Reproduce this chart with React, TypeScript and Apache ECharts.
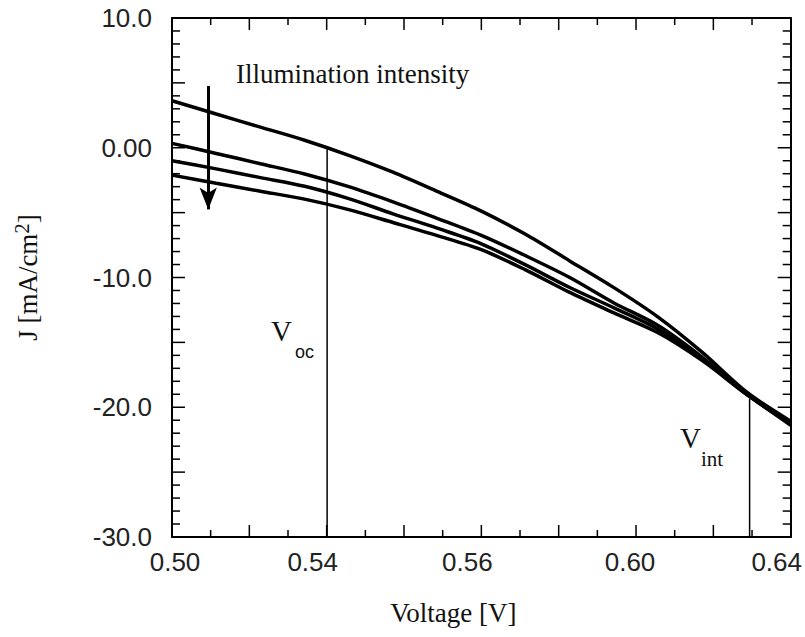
import React, { useEffect, useRef } from "react";
import * as echarts from "echarts";

// Voltage grid [V]
const voltage = [0.50, 0.51, 0.52, 0.53, 0.54, 0.55, 0.56, 0.57, 0.58, 0.59, 0.60, 0.61, 0.62, 0.63, 0.64];
// Current density J [mA/cm2] for four illumination intensities (highest first)
const j1 = [3.62, 2.60, 1.59, 0.58, -0.58, -1.88, -3.36, -4.88, -6.67, -8.72, -10.78, -13.05, -15.77, -18.82, -21.08];
const j2 = [0.34, -0.44, -1.23, -2.02, -3.0, -4.17, -5.44, -6.75, -8.32, -10.0, -11.96, -13.7, -16.15, -18.98, -21.23];
const j3 = [-1.0, -1.63, -2.3, -2.97, -3.92, -5.09, -6.2, -7.4, -9.03, -10.77, -12.34, -13.98, -16.31, -18.99, -21.31];
const j4 = [-2.11, -2.74, -3.35, -3.96, -4.77, -5.76, -6.77, -7.86, -9.41, -11.15, -12.73, -14.26, -16.41, -19.0, -21.39];
const curves = [j1, j2, j3, j4];

// Marker lines
const vocV = 0.5351;
const vocJ = [0.0, -30];
const vintV = 0.6307;
const vintJ = [-19.35, -30];
// Illumination arrow
const arrowV = 0.5082;
const arrowJ = [4.76, -4.75];

// Tick labels (printed as in the figure)
const xTickLabels = ["0.50", "0.54", "0.56", "0.60", "0.64"];
const yTickLabels: Record<string, string> = { "10": "10.0", "0": "0.00", "-10": "-10.0", "-20": "-20.0", "-30": "-30.0" };
// Frame tick positions (x in tick units 0..16, y in J units)
const xTickVals = [1, 2, 3, 4, 5, 6, 7, 8, 9, 10, 11, 12, 13, 14, 15];
const yTickVals = [-29, -28, -27, -26, -25, -24, -23, -22, -21, -20, -19, -18, -17, -16, -15, -14, -13, -12, -11, -10,
  -9, -8, -7, -6, -5, -4, -3, -2, -1, 0, 1, 2, 3, 4, 5, 6, 7, 8, 9];

const SERIF = "'Liberation Serif', 'DejaVu Serif', serif";
const SANS = "'Liberation Sans', Arial, sans-serif";

export default function App() {
  const ref = useRef<HTMLDivElement>(null);
  useEffect(() => {
    if (!ref.current) return;
    const chart = echarts.init(ref.current, null, { renderer: "svg" });
    const frameAxis = {
      axisLine: { show: true, onZero: false, lineStyle: { color: "#000", width: 2 } },
      splitLine: { show: false },
      axisTick: { show: false },
    };

    const series: any[] = curves.map((c, i) => ({
      type: "line",
      name: "I" + (i + 1),
      xAxisIndex: 0,
      yAxisIndex: 0,
      data: voltage.map((v, k) => [v, c[k]]),
      showSymbol: false,
      smooth: 0.3,
      lineStyle: { color: "#000", width: 3.5 },
    }));
    series.push({
      type: "line",
      name: "Voc",
      xAxisIndex: 0,
      yAxisIndex: 0,
      data: vocJ.map((j) => [vocV, j]),
      showSymbol: false,
      lineStyle: { color: "#000", width: 1.5 },
      markLine: {
        silent: true,
        symbol: ["none", "arrow"],
        symbolSize: [13, 22],
        label: { show: false },
        lineStyle: { color: "#000", width: 3, type: "solid" },
        data: [[{ coord: [arrowV, arrowJ[0]] }, { coord: [arrowV, arrowJ[1]] }]],
      },
    });
    series.push({
      type: "line",
      name: "Vint",
      xAxisIndex: 0,
      yAxisIndex: 0,
      data: vintJ.map((j) => [vintV, j]),
      showSymbol: false,
      lineStyle: { color: "#000", width: 1.5 },
    });

    const pads = [[0, 0, 0, 6], [0, 28, 0, 0], [0, 28, 0, 0], [0, 12, 0, 0], [0, 28, 0, 0]];
    const rich: any = {};
    pads.forEach((p, k) => {
      rich["l" + k] = { padding: p, fontFamily: SANS, fontSize: 26, color: "#222" };
    });

    const texts: any[] = [
      {
        type: "text",
        left: 236,
        top: 60,
        style: { text: "Illumination intensity", fontFamily: SERIF, fontSize: 27, fill: "#111" },
      },
      { type: "text", left: 271, top: 316, style: { text: "V", fontFamily: SERIF, fontSize: 29, fill: "#111" } },
      { type: "text", left: 295, top: 343, style: { text: "oc", fontFamily: SANS, fontSize: 18, fill: "#111" } },
      { type: "text", left: 680, top: 423, style: { text: "V", fontFamily: SERIF, fontSize: 29, fill: "#111" } },
      { type: "text", left: 701, top: 448, style: { text: "int", fontFamily: SERIF, fontSize: 21, fill: "#111" } },
    ];

    chart.setOption({
      animation: false,
      backgroundColor: "#fff",
      grid: { left: 172, top: 18, width: 621, height: 519 },
      xAxis: [
        { type: "value", min: 0.5, max: 0.64, show: false },
        {
          type: "value",
          min: 0,
          max: 16,
          interval: 2,
          position: "bottom",
          ...frameAxis,
          axisLabel: {
            show: true,
            margin: 12,
            color: "#222",
            fontFamily: SANS,
            fontSize: 26,
            formatter: (v: number) => {
              if (v % 4 !== 0) return "";
              const k = v / 4;
              return "{l" + k + "|" + xTickLabels[k] + "}";
            },
            rich,
          },
          name: "Voltage [V]",
          nameLocation: "middle",
          nameGap: 62,
          nameTextStyle: { fontFamily: SERIF, fontSize: 27, color: "#111", padding: [0, 56, 0, 0] },
        },
        {
          type: "value",
          min: 0,
          max: 16,
          interval: 2,
          position: "top",
          ...frameAxis,
          axisLabel: { show: false },
        },
      ],
      yAxis: [
        {
          type: "value",
          min: -30,
          max: 10,
          interval: 5,
          position: "left",
          ...frameAxis,
          axisLabel: {
            show: true,
            margin: 20,
            color: "#222",
            fontFamily: SANS,
            fontSize: 26,
            formatter: (v: number) => yTickLabels[String(v)] ?? "",
          },
          name: "J [mA/cm{sup|2}]",
          nameLocation: "middle",
          nameRotate: 90,
          nameGap: 128,
          nameTextStyle: {
            fontFamily: SERIF,
            fontSize: 27,
            color: "#111",
            rich: { sup: { fontFamily: SERIF, fontSize: 21, color: "#111", verticalAlign: "top", padding: [0, 0, 12, 0] } },
          },
        },
        {
          type: "value",
          min: -30,
          max: 10,
          interval: 5,
          position: "right",
          ...frameAxis,
          axisLabel: { show: false },
        },
      ],
      graphic: texts,
      series,
    });

    // Inward frame ticks, positioned through the axes' own scales
    const px = (v: number) => chart.convertToPixel({ xAxisIndex: 1 }, v) as number;
    const py = (v: number) => chart.convertToPixel({ yAxisIndex: 0 }, v) as number;
    const xL = px(0);
    const xR = px(16);
    const yT = py(10);
    const yB = py(-30);
    const tickStyle = { stroke: "#000", lineWidth: 1.5 };
    const ticks: any[] = [];
    xTickVals.forEach((v) => {
      const len = v % 2 === 0 ? 12 : 7;
      const x = px(v);
      ticks.push({ type: "line", silent: true, z: 10, shape: { x1: x, y1: yB, x2: x, y2: yB - len }, style: tickStyle });
      ticks.push({ type: "line", silent: true, z: 10, shape: { x1: x, y1: yT, x2: x, y2: yT + len }, style: tickStyle });
    });
    yTickVals.forEach((v) => {
      const len = v % 5 === 0 ? 13 : 8;
      const y = py(v);
      ticks.push({ type: "line", silent: true, z: 10, shape: { x1: xL, y1: y, x2: xL + len, y2: y }, style: tickStyle });
      ticks.push({ type: "line", silent: true, z: 10, shape: { x1: xR, y1: y, x2: xR - len, y2: y }, style: tickStyle });
    });
    chart.setOption({ graphic: [...texts, ...ticks] });

    return () => chart.dispose();
  }, []);
  return <div ref={ref} style={{ position: "absolute", left: 0, top: 0, width: 805, height: 637 }} />;
}
